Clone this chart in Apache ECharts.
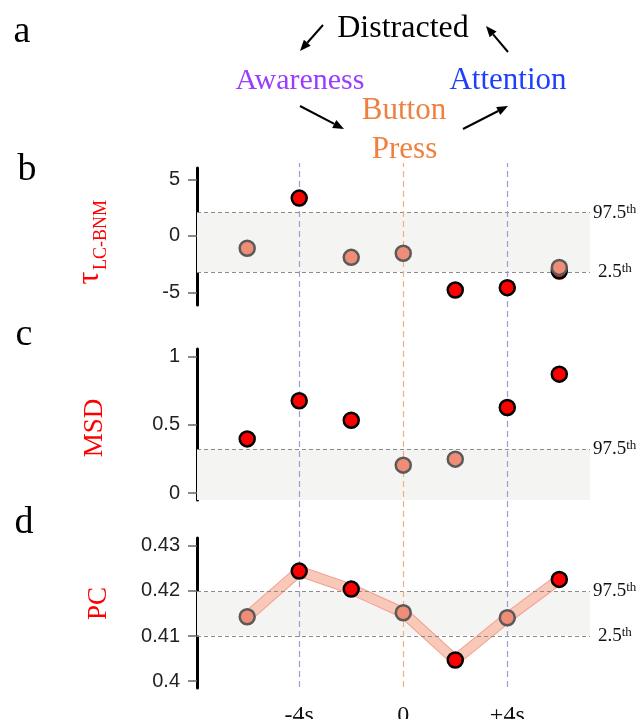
<!DOCTYPE html>
<html>
<head>
<meta charset="utf-8">
<script src="https://cdn.jsdelivr.net/npm/echarts@6/dist/echarts.min.js"></script>
<style>html,body{margin:0;padding:0;background:#fff;}#chart{width:638px;height:719px;}</style>
</head>
<body>
<div id="chart"></div>
<script>
// ---------------- data ----------------
const times = [-6, -4, -2, 0, 2, 4, 6];
// panel b: tau_LC-BNM
const tauSig = [null, 3.34, null, null, -4.78, -4.57, -3.1];
const tauNs  = [-1.09, null, -1.89, -1.53, null, null, -2.78];
const tauPct = [-3.19, 2.06];          // 2.5th, 97.5th
const tauTicks = [-5, 0, 5];
// panel c: MSD
const msdSig = [0.397, 0.676, 0.534, null, null, 0.627, 0.871];
const msdNs  = [null, null, null, 0.205, 0.249, null, null];
const msdPct = [0.324];                // 97.5th
const msdTicks = [0, 0.5, 1];
// panel d: PC
const pcVals = [0.41427, 0.42437, 0.42039, 0.41515, 0.40469, 0.41405, 0.42254];
const pcSig  = [null, 0.42437, 0.42039, null, 0.40469, null, 0.42254];
const pcNs   = [0.41427, null, null, 0.41515, null, 0.41405, null];
const pcPct  = [0.4101, 0.4198];
const pcTicks = [0.4, 0.41, 0.42, 0.43];
// x axis
const xTickValues = [-4, 0, 4];
const xTickLabels = ['-4s', '0', '+4s'];
const eventTimes = [-4, 0, 4];
const eventColors = ['#9c9cd6', '#f5ae78', '#9c9cd6'];

// ---------------- helpers ----------------
const SERIF = 'Liberation Serif';
const SANS = 'Liberation Sans';
const pair = arr => times.map((t, i) => [t, arr[i]]).filter(p => p[1] !== null);
const XMIN = -7.93, XMAX = 7.18;

function yAxisCfg(idx, min, max, ticks) {
  return {
    type: 'value', gridIndex: idx, min: min, max: max, position: 'left',
    axisLine: { show: true, onZero: false, lineStyle: { color: '#000', width: 3 } },
    axisTick: { show: true, length: 9, customValues: ticks, lineStyle: { color: '#666', width: 1.5 } },
    axisLabel: { show: true, customValues: ticks, margin: 17, color: '#222', fontFamily: SANS, fontSize: 20 },
    splitLine: { show: false }
  };
}
function xAxisCfg(idx, showLabels) {
  return {
    type: 'value', gridIndex: idx, min: XMIN, max: XMAX,
    axisLine: { show: false, onZero: false }, axisTick: { show: false }, splitLine: { show: false },
    axisLabel: showLabels ? {
      show: true, customValues: xTickValues, margin: 16, color: '#111', fontFamily: SERIF, fontSize: 24,
      formatter: v => xTickLabels[xTickValues.indexOf(v)]
    } : { show: false }
  };
}
function pctLabel(kind, dist) {
  return {
    show: true, position: 'end', distance: dist,
    formatter: '{a|' + kind + '}{s|th}',
    rich: {
      a: { fontFamily: SERIF, fontSize: 19, color: '#111', lineHeight: 20 },
      s: { fontFamily: SERIF, fontSize: 13, color: '#111', verticalAlign: 'top', lineHeight: 12 }
    }
  };
}
function refSeries(idx, shadeFrom, shadeTo, lines) {
  return {
    type: 'line', xAxisIndex: idx, yAxisIndex: idx, data: [], z: 1, silent: true,
    markArea: { silent: true, itemStyle: { color: '#f4f4f2' }, data: [[{ yAxis: shadeFrom }, { yAxis: shadeTo }]] },
    markLine: {
      silent: true, symbol: ['none', 'none'],
      lineStyle: { color: '#8c8c8c', type: [4, 3], width: 1 },
      data: lines
    }
  };
}
function scatter(idx, data, sig) {
  return {
    type: 'scatter', xAxisIndex: idx, yAxisIndex: idx, data: pair(data),
    symbolSize: 15, z: sig ? 5 : 6,
    itemStyle: sig ? { color: '#ff0000', borderColor: '#000', borderWidth: 2.5, opacity: 1 }
                   : { color: '#f08d76', borderColor: '#5a5a5a', borderWidth: 2.5, opacity: 1 }
  };
}

// ---------------- graphic annotations ----------------
function arrow(x1, y1, x2, y2) {
  const a = Math.atan2(y2 - y1, x2 - x1), L = 11, W = 4.5;
  const c = Math.cos(a), s = Math.sin(a);
  const bx = x2 - L * c, by = y2 - L * s;
  return [
    { type: 'line', shape: { x1: x1, y1: y1, x2: bx, y2: by }, style: { stroke: '#000', lineWidth: 2 } },
    { type: 'polygon', shape: { points: [[x2, y2], [bx + W * s, by - W * c], [bx - W * s, by + W * c]] }, style: { fill: '#000' } }
  ];
}
function txt(text, x, y, size, color, rot) {
  return { type: 'text', x: x, y: y, rotation: rot || 0,
    style: { text: text, fontFamily: SERIF, fontSize: size, fill: color, align: 'center', verticalAlign: 'middle' } };
}
const graphics = [].concat(
  txt('a', 22, 32, 38, '#000'),
  txt('b', 27, 170, 38, '#000'),
  txt('c', 24, 335, 38, '#000'),
  txt('d', 24, 523, 38, '#000'),
  txt('Distracted', 403, 29, 32, '#000'),
  txt('Awareness', 300, 81, 30, '#9b3dff'),
  txt('Attention', 508, 81, 31, '#1f3fff'),
  txt('Button', 404, 111, 31, '#ee8040'),
  txt('Press', 404.5, 150, 31, '#ee8040'),
  arrow(323, 25, 300, 51),
  arrow(508, 52, 486, 26),
  arrow(300, 106, 344, 129),
  arrow(463, 129, 508, 106),
  txt('τ', 90, 278, 32, '#ff0000', Math.PI / 2),
  txt('LC-BNM', 101, 235, 18, '#ff0000', Math.PI / 2),
  txt('MSD', 94.5, 428, 27, '#ff0000', Math.PI / 2),
  txt('PC', 98.5, 603.5, 27, '#ff0000', Math.PI / 2)
);

// ---------------- option ----------------
const grids = [
  { left: 197, right: 48, top: 168, height: 137 },
  { left: 197, right: 48, top: 349, height: 151 },
  { left: 197, right: 48, top: 538, height: 150 },
  { left: 197, right: 48, top: 163, height: 524 }
].map(g => Object.assign({ containLabel: false, outerBoundsMode: 'none' }, g));

const option = {
  animation: false,
  backgroundColor: '#fff',
  grid: grids,
  xAxis: [xAxisCfg(0, false), xAxisCfg(1, false), xAxisCfg(2, true), xAxisCfg(3, false)],
  yAxis: [
    yAxisCfg(0, -6.1, 6, tauTicks),
    yAxisCfg(1, -0.05, 1.055, msdTicks),
    yAxisCfg(2, 0.3985, 0.4317, pcTicks),
    { type: 'value', gridIndex: 3, min: 0, max: 1, show: false }
  ],
  graphic: graphics,
  series: [
    refSeries(0, tauPct[0], tauPct[1], [
      { yAxis: tauPct[1], label: pctLabel('97.5', 3) },
      { yAxis: tauPct[0], label: pctLabel('2.5', 8) }
    ]),
    refSeries(1, -0.05, msdPct[0], [
      { yAxis: msdPct[0], label: pctLabel('97.5', 3) }
    ]),
    refSeries(2, pcPct[0], pcPct[1], [
      { yAxis: pcPct[1], label: pctLabel('97.5', 3) },
      { yAxis: pcPct[0], label: pctLabel('2.5', 8) }
    ]),
    {
      type: 'line', xAxisIndex: 3, yAxisIndex: 3, data: [], z: 2, silent: true,
      markLine: {
        silent: true, symbol: ['none', 'none'], label: { show: false },
        data: eventTimes.map((t, i) => ({ xAxis: t, lineStyle: { color: eventColors[i], type: [6, 4], width: 1.2 } }))
      }
    },
    {
      type: 'line', xAxisIndex: 2, yAxisIndex: 2, data: pair(pcVals), z: 3, silent: true,
      showSymbol: false, lineStyle: { color: '#f4a090', width: 11, join: 'miter' }
    },
    {
      type: 'line', xAxisIndex: 2, yAxisIndex: 2, data: pair(pcVals), z: 3, silent: true,
      showSymbol: false, lineStyle: { color: '#f8c8b8', width: 9, join: 'miter' }
    },
    scatter(0, tauSig, true), scatter(0, tauNs, false),
    scatter(1, msdSig, true), scatter(1, msdNs, false),
    scatter(2, pcSig, true), scatter(2, pcNs, false)
  ]
};
const chart = echarts.init(document.getElementById('chart'), null, { renderer: 'canvas' });
chart.setOption(option);
</script>
</body>
</html>
